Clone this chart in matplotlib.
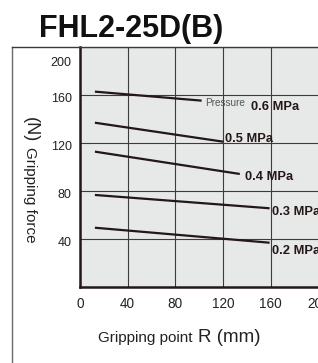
import matplotlib
matplotlib.use("Agg")
import matplotlib.pyplot as plt
from matplotlib.lines import Line2D
from matplotlib.transforms import ScaledTranslation

plt.rcParams['font.family'] = ['Liberation Sans', 'DejaVu Sans']

# Data (gripping point R in mm, gripping force in N)
pressures = ["0.6", "0.5", "0.4", "0.3", "0.2"]
x_start = [12.5, 12.5, 12.5, 12.5, 12.5]
x_end = [102, 120, 134, 159, 159]
f_start = [162.8, 136.9, 112.8, 76.7, 49.4]
f_end = [155.3, 121.1, 94.2, 65.6, 36.9]
label_x = [143.4, 121.6, 138.4, 161, 161]
label_y = [147.5, 121.25, 88.75, 60.4, 27.9]
xticks = [0, 40, 80, 120, 160, 200]
yticks = [40, 80, 120, 160, 200]

W, H = 318, 363
fig = plt.figure(figsize=(W / 100, H / 100), dpi=100)

def fx(px):
    return px / W

def fy(py):
    return 1 - py / H

ax = fig.add_axes([fx(80), fy(287), (318.5 - 80) / W, (287 - 47) / H])
dark = '#231815'
ax.set_facecolor('#e7e8e8')
ax.set_xlim(0, 200)
ax.set_ylim(0, 200)

for xs, xe, fs, fe in zip(x_start, x_end, f_start, f_end):
    ax.plot([xs, xe], [fs, fe], color=dark, lw=1.6, solid_capstyle='butt', zorder=3)

for p, lx, ly in zip(pressures, label_x, label_y):
    ax.text(lx, ly, f"{p} MPa", fontsize=9.3, fontweight='bold', color=dark,
            ha='left', va='baseline', zorder=4)
ax.text(104.8, 151, "Pressure", fontsize=7.2, color='#555555', ha='left', va='baseline', zorder=4)

ax.set_xticks(xticks)
ax.set_yticks(yticks)
ax.set_xticklabels([str(t) for t in xticks], fontsize=9.8, color='#222222')
ax.set_yticklabels([str(t) for t in yticks], fontsize=9, color='#222222')
ax.tick_params(axis='both', length=0)
ax.tick_params(axis='x', pad=7)
ax.tick_params(axis='y', pad=6)
for lbl, t in zip(ax.get_yticklabels(), yticks):
    dy = -14 if t == 200 else -3
    lbl.set_transform(lbl.get_transform() + ScaledTranslation(0, dy / 100, fig.dpi_scale_trans))

ax.grid(True, color='#3c3c3c', lw=0.8)
ax.set_axisbelow(True)
for s in ['top', 'right']:
    ax.spines[s].set_visible(False)
for s in ['left', 'bottom']:
    ax.spines[s].set_color(dark)
    ax.spines[s].set_linewidth(1.8)

# outer frame
fig.add_artist(Line2D([fx(12), fx(12)], [fy(47), fy(363)], color='#6a6a6a', lw=1.0))
fig.add_artist(Line2D([fx(12), fx(318)], [fy(47), fy(47)], color='#3a3a3a', lw=1.0))

# title
fig.text(fx(131), fy(36.7), "FHL2-25D(B)", fontsize=22, fontweight='bold',
         color='#111111', ha='center', va='baseline')

# x label
fig.text(fx(197), fy(342), "Gripping point ", fontsize=11, color='#222222', ha='right', va='baseline')
fig.text(fx(198), fy(342), "R (mm)", fontsize=13.5, color='#222222', ha='left', va='baseline')

# y label
fig.text(fx(30.5), fy(117), "(N)", fontsize=13, color='#222222', rotation=-90,
         ha='center', va='top')
fig.text(fx(30), fy(147), "Gripping force", fontsize=11, color='#222222', rotation=-90,
         ha='center', va='top')

fig.savefig("out.png", dpi=100)
